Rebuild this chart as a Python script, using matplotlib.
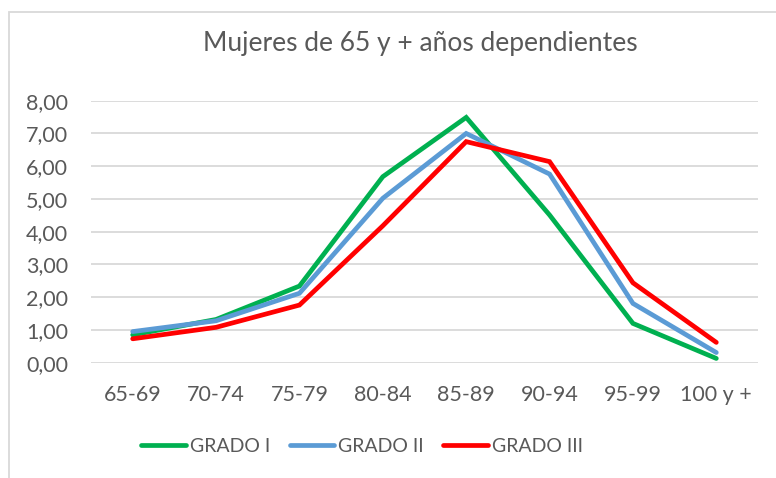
import matplotlib.pyplot as plt
from matplotlib.patches import Rectangle
from matplotlib.ticker import FuncFormatter

# grupos de edad
edades = ["65-69", "70-74", "75-79", "80-84", "85-89", "90-94", "95-99", "100 y +"]

# porcentaje de mujeres dependientes por grado
grado_1 = [0.85, 1.32, 2.34, 5.68, 7.49, 4.51, 1.20, 0.13]
grado_2 = [0.95, 1.28, 2.12, 5.02, 7.00, 5.76, 1.81, 0.31]
grado_3 = [0.73, 1.08, 1.76, 4.18, 6.75, 6.14, 2.44, 0.62]

series = [("GRADO I", grado_1, "#00B050"),
          ("GRADO II", grado_2, "#5B9BD5"),
          ("GRADO III", grado_3, "#FF0000")]

plt.rcParams['font.family'] = ['Lato', 'DejaVu Sans']
gris = "#595959"

fig = plt.figure(figsize=(7.76, 4.78), dpi=100)
ax = fig.add_axes([91/776, 1 - 362.7/478, 667/776, 262/478])

x = list(range(len(edades)))
for nombre, valores, color in series:
    ax.plot(x, valores, color=color, lw=3.4, label=nombre,
            solid_joinstyle='miter', solid_capstyle='round')

ax.set_xlim(-0.5, len(edades) - 0.5)
ax.set_ylim(0, 8)
ax.set_yticks(range(0, 9))
ax.yaxis.set_major_formatter(FuncFormatter(lambda v, p: f"{v:.2f}".replace(".", ",")))
ax.set_xticks(x)
ax.set_xticklabels(edades)
ax.tick_params(axis='both', length=0, labelsize=15.5, colors=gris)
ax.tick_params(axis='y', pad=16.5)
ax.tick_params(axis='x', pad=16)
ax.grid(axis='y', color="#D9D9D9", lw=1.3)
ax.set_axisbelow(True)
for s in ax.spines.values():
    s.set_visible(False)

fig.text(420/776, 1 - 43/478, "Mujeres de 65 y + años dependientes",
         ha='center', va='center', fontsize=19, color=gris)

ax.legend(loc='center', bbox_to_anchor=(362/776, 1 - 446/478),
          bbox_transform=fig.transFigure, ncol=3, frameon=False,
          fontsize=14, labelcolor=gris, handlelength=2.3,
          handletextpad=0.2, columnspacing=1.0)

# marco del gráfico
fig.patches.append(Rectangle((9/776, -0.1), 2, 1 - 12/478 + 0.1,
                             transform=fig.transFigure, fill=False,
                             edgecolor="#D9D9D9", lw=1.3))

fig.savefig("out.png", dpi=100)
